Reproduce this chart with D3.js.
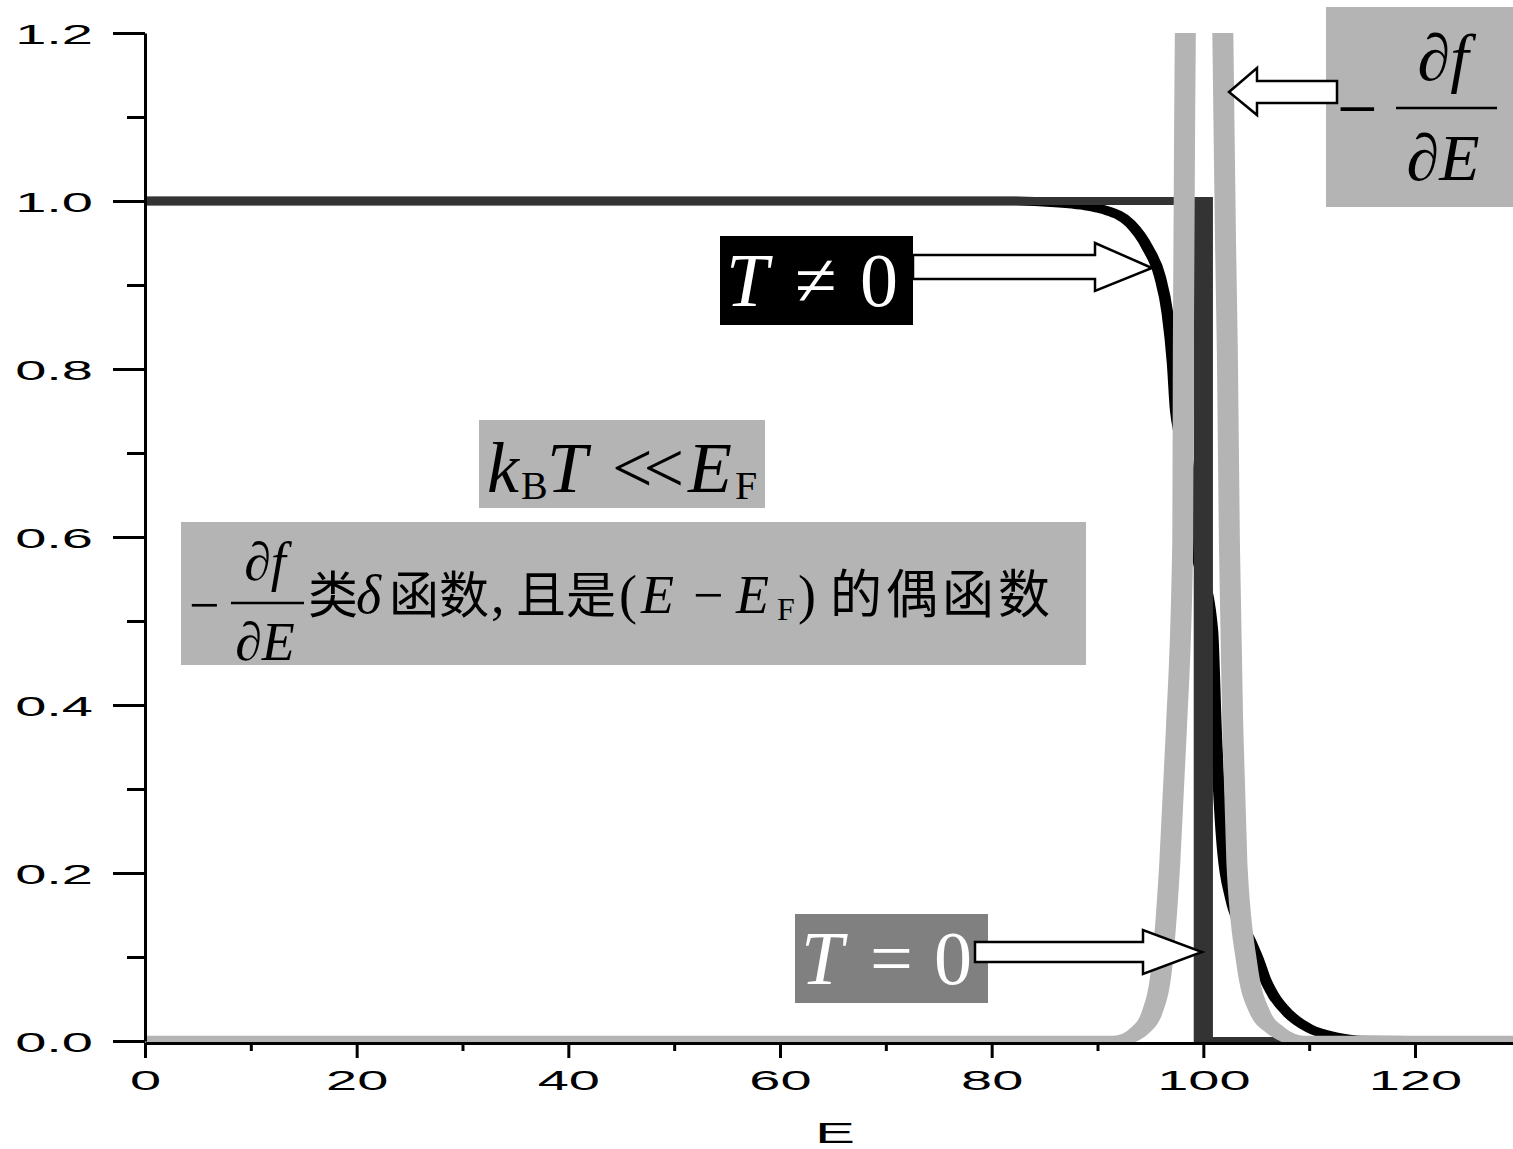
<!DOCTYPE html>
<html>
<head>
<meta charset="utf-8">
<script src="https://cdn.jsdelivr.net/npm/d3@7"></script>
<style>
  body { margin: 0; background: #fff; }
</style>
</head>
<body>
<script>
// axis ticks
const xTicks = [0, 20, 40, 60, 80, 100, 120]
const xMinor = [10, 30, 50, 70, 90, 110]
const yTicks = [0, 0.2, 0.4, 0.6, 0.8, 1.0, 1.2]
const yMinor = [0.1, 0.3, 0.5, 0.7, 0.9, 1.1]

// T = 0 : step function
const stepE = [0, 100, 100, 130]
const stepF = [1, 1, 0, 0]

// T != 0 : Fermi curve
const fermiE = [0, 82, 86, 88.5, 90.5, 93.1, 94.7, 95.9, 96.6, 97.1, 97.4, 98.6, 99.2, 100.85, 101.2, 101.7, 102.6, 104.4, 105.3, 105.8, 106.6, 108, 110, 112.5, 115, 130]
const fermiF = [1, 1, 0.998, 0.995, 0.99, 0.973, 0.945, 0.91, 0.867, 0.807, 0.75, 0.68, 0.6, 0.489, 0.37, 0.25, 0.17, 0.12, 0.093, 0.075, 0.055, 0.033, 0.015, 0.005, 0.001, 0]

// -df/dE (peak runs off the top)
const derivE = [0, 91.5, 93.0, 94.05, 95.13, 96.12, 96.83, 97.45, 98.06, 98.11, 98.3, 98.7, 100.1, 101.5, 101.84, 102.27, 102.46, 102.79, 103.17, 104.1, 105.39, 106.8, 108.0, 109.5, 130]
const derivY = [0, 0, 0.004, 0.013, 0.033, 0.093, 0.212, 0.37, 0.596, 0.82, 1.2, 2.0, 2.6, 2.0, 1.2, 0.82, 0.596, 0.37, 0.212, 0.093, 0.033, 0.013, 0.004, 0, 0]

const width = 1513
const height = 1149

const x = d3.scaleLinear().domain([0, 130]).range([145, 145 + 1270 / 120 * 130])
const y = d3.scaleLinear().domain([0, 1.2]).range([1041, 33])

const svg = d3.select('body').append('svg').attr('width', width).attr('height', height)

svg.append('defs').append('clipPath').attr('id', 'plotClip')
  .append('rect').attr('x', 145).attr('y', 33).attr('width', 1368).attr('height', 1009)

const plot = svg.append('g').attr('clip-path', 'url(#plotClip)')

// thick lines drawn with a pen wider than tall, like the original
function drawPen(es, vs, color, w, ratio, curve) {
  const xs = x.copy().range(x.range().map((v) => v / ratio))
  const line = d3.line().x((d) => xs(d[0])).y((d) => y(d[1])).curve(curve)
  plot.append('g').attr('transform', `scale(${ratio},1)`)
    .append('path')
    .datum(d3.zip(es, vs))
    .attr('d', line)
    .attr('fill', 'none')
    .attr('stroke', color)
    .attr('stroke-width', w)
    .attr('stroke-linejoin', 'miter')
}

drawPen(fermiE, fermiF, '#000', 9, 1.3, d3.curveMonotoneX)
drawPen(stepE, stepF, '#333', 8, 2.4, d3.curveLinear)
drawPen(derivE, derivY, '#b4b4b4', 10.5, 2, d3.curveMonotoneX)

// axes
const tickFont = 'Liberation Sans, Arial, sans-serif'

const yAxis = svg.append('g').attr('transform', 'translate(145,0)')
  .call(d3.axisLeft(y).tickValues(yTicks).tickSize(32).tickSizeOuter(0).tickFormat(d3.format('.1f')))
  .attr('font-family', tickFont).attr('font-size', 28)
yAxis.select('.domain').attr('stroke-width', 3).attr('stroke', '#000')
yAxis.selectAll('.tick line').attr('stroke-width', 3).attr('stroke', '#000')
yAxis.selectAll('.tick text').attr('x', -26).attr('dy', '0.36em')
  .attr('transform', 'scale(2,1)').attr('fill', '#000')

svg.append('g').attr('transform', 'translate(145,0)')
  .call(d3.axisLeft(y).tickValues(yMinor).tickSize(18).tickFormat(''))
  .call((g) => g.select('.domain').remove())
  .selectAll('.tick line').attr('stroke-width', 3).attr('stroke', '#000')

const xAxis = svg.append('g').attr('transform', 'translate(0,1043)')
  .call(d3.axisBottom(x).tickValues(xTicks).tickSize(15).tickSizeOuter(0))
  .attr('font-family', tickFont).attr('font-size', 28)
xAxis.select('.domain').attr('stroke-width', 3).attr('stroke', '#000')
xAxis.selectAll('.tick line').attr('stroke-width', 3).attr('stroke', '#000')
xAxis.selectAll('.tick text').attr('y', 47).attr('dy', null)
  .attr('transform', 'scale(2,1)').attr('fill', '#000')

svg.append('g').attr('transform', 'translate(0,1043)')
  .call(d3.axisBottom(x).tickValues(xMinor).tickSize(8).tickFormat(''))
  .call((g) => g.select('.domain').remove())
  .selectAll('.tick line').attr('stroke-width', 3).attr('stroke', '#000')

svg.append('g').attr('transform', 'translate(835,1143)')
  .append('text')
  .attr('transform', 'scale(2,1)')
  .attr('text-anchor', 'middle')
  .attr('font-family', tickFont)
  .attr('font-size', 30)
  .text('E')

// annotations
const serif = 'Liberation Serif, Times New Roman, serif'
const cjk = 'Noto Sans CJK SC, sans-serif'
const ann = svg.append('g')

function fraction(cx, barY, x0, x1, size, numBase, denBase) {
  ann.append('text').attr('x', cx).attr('y', numBase).attr('text-anchor', 'middle')
    .attr('font-family', serif).attr('font-size', size).attr('font-style', 'italic').text('∂f')
  ann.append('line').attr('x1', x0).attr('x2', x1).attr('y1', barY).attr('y2', barY)
    .attr('stroke', '#000').attr('stroke-width', 2.5)
  ann.append('text').attr('x', cx).attr('y', denBase).attr('text-anchor', 'middle')
    .attr('font-family', serif).attr('font-size', size).attr('font-style', 'italic').text('∂E')
}

// top right: -df/dE
ann.append('rect').attr('x', 1326).attr('y', 7).attr('width', 187).attr('height', 200).attr('fill', '#b4b4b4')
ann.append('text').attr('x', 1337).attr('y', 133).attr('font-family', serif).attr('font-size', 72).text('−')
fraction(1443, 108, 1396, 1497, 66, 80, 180)

// T != 0
ann.append('rect').attr('x', 720).attr('y', 236).attr('width', 193).attr('height', 89).attr('fill', '#000')
const tne = ann.append('text').attr('y', 306).attr('font-family', serif).attr('font-size', 76).attr('fill', '#fff')
tne.append('tspan').attr('x', 726).attr('font-style', 'italic').text('T')
tne.append('tspan').attr('x', 795).text('≠')
tne.append('tspan').attr('x', 860).text('0')

// T = 0
ann.append('rect').attr('x', 795).attr('y', 914).attr('width', 193).attr('height', 89).attr('fill', '#808080')
const teq = ann.append('text').attr('y', 984).attr('font-family', serif).attr('font-size', 76).attr('fill', '#fff')
teq.append('tspan').attr('x', 801).attr('font-style', 'italic').text('T')
teq.append('tspan').attr('x', 870).text('=')
teq.append('tspan').attr('x', 934).text('0')

// kB T << EF
ann.append('rect').attr('x', 479).attr('y', 420).attr('width', 286).attr('height', 88).attr('fill', '#b4b4b4')
const kbt = ann.append('text').attr('y', 492).attr('font-family', serif).attr('font-size', 72)
kbt.append('tspan').attr('x', 487).attr('font-style', 'italic').text('k')
kbt.append('tspan').attr('x', 521).attr('y', 499).attr('font-size', 40).text('B')
kbt.append('tspan').attr('x', 547).attr('y', 492).attr('font-style', 'italic').text('T')
kbt.append('tspan').attr('x', 612).attr('letter-spacing', -9).text('<<')
kbt.append('tspan').attr('x', 688).attr('font-style', 'italic').text('E')
kbt.append('tspan').attr('x', 735).attr('y', 499).attr('font-size', 40).text('F')

// -df/dE 类δ函数, 且是(E - EF)的偶函数
ann.append('rect').attr('x', 181).attr('y', 522).attr('width', 905).attr('height', 143).attr('fill', '#b4b4b4')
ann.append('text').attr('x', 189).attr('y', 623).attr('font-family', serif).attr('font-size', 54).text('−')
fraction(265, 603, 231, 304, 54, 580, 660)
const desc = ann.append('text').attr('y', 613).attr('font-size', 54)
desc.append('tspan').attr('x', 308).attr('font-family', cjk).attr('font-size', 50).text('类')
desc.append('tspan').attr('x', 356).attr('font-family', serif).attr('font-style', 'italic').text('δ')
desc.append('tspan').attr('x', 389).attr('font-family', cjk).attr('font-size', 50).text('函数')
desc.append('tspan').attr('x', 491).attr('font-family', serif).text(',')
desc.append('tspan').attr('x', 516).attr('font-family', cjk).attr('font-size', 50).text('且是')
desc.append('tspan').attr('x', 619).attr('font-family', serif).text('(')
desc.append('tspan').attr('x', 641).attr('font-family', serif).attr('font-style', 'italic').text('E')
desc.append('tspan').attr('x', 693).attr('font-family', serif).text('−')
desc.append('tspan').attr('x', 736).attr('font-family', serif).attr('font-style', 'italic').text('E')
desc.append('tspan').attr('x', 777).attr('y', 620).attr('font-family', serif).attr('font-size', 32).text('F')
desc.append('tspan').attr('x', 798).attr('y', 613).attr('font-family', serif).text(')')
desc.append('tspan').attr('x', 830).attr('font-family', cjk).attr('font-size', 52).attr('letter-spacing', 4).text('的偶函数')

// hollow arrows
const arrows = [
  [[913, 255], [1095, 255], [1095, 243], [1152, 268], [1095, 291], [1095, 279], [913, 279]],
  [[975, 942], [1143, 942], [1143, 930], [1202, 952], [1143, 974], [1143, 962], [975, 962]],
  [[1337, 81], [1257, 81], [1257, 68], [1229, 92], [1257, 115], [1257, 103], [1337, 103]],
]
ann.selectAll('polygon.arrow').data(arrows).enter().append('polygon')
  .attr('class', 'arrow')
  .attr('points', (d) => d.map((p) => p.join(',')).join(' '))
  .attr('fill', '#fff')
  .attr('stroke', '#000')
  .attr('stroke-width', 2.5)
</script>
</body>
</html>
